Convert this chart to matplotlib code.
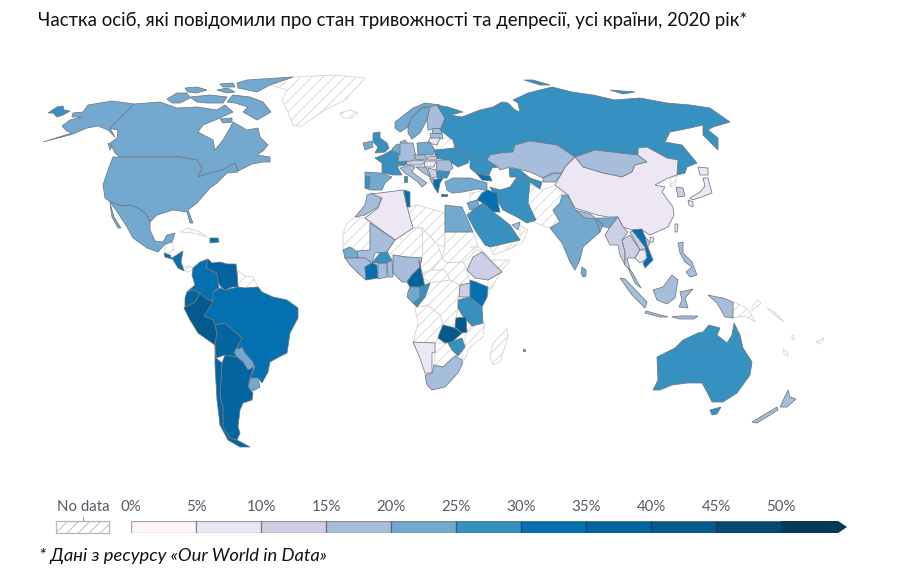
import matplotlib
matplotlib.use("Agg")
import matplotlib.pyplot as plt
from matplotlib.colors import BoundaryNorm, ListedColormap
from matplotlib.patches import Polygon

plt.rcParams["font.family"] = ["Lato", "Open Sans", "DejaVu Sans"]
plt.rcParams["hatch.linewidth"] = 0.6

TITLE = "Частка осіб, які повідомили про стан тривожності та депресії, усі країни, 2020 рік*"
NOTE = "* Дані з ресурсу «Our World in Data»"

bin_edges = [0, 5, 10, 15, 20, 25, 30, 35, 40, 45, 50, 55]
bin_colors = ["#fdf5fa", "#ece7f2", "#cdcfe5", "#a6bddb", "#74a9cf", "#3690c0",
              "#0570b0", "#04649f", "#045a8d", "#034a74", "#023858"]
tick_labels = ["0%", "5%", "10%", "15%", "20%", "25%", "30%", "35%", "40%", "45%", "50%"]

# share of people, read off the colour of each country (None = no data)
americas_values = {
    "canada": 22, "usa": 22, "mexico": 22, "guatemala": 32, "honduras": 32, "hispaniola": 32,
    "colombia": 32, "venezuela": 36, "brazil": 32, "ecuador": 37, "peru": 43, "bolivia": 36,
    "paraguay": 22, "uruguay": 22, "argentina": 36, "chile": 36,
    "greenland": None, "cuba": None, "belize": None, "panama": None, "guyanas": None,
}
europe_values = {
    "iceland": None, "ireland": 22, "uk": 28, "france": 27, "spain": 23, "portugal": 27,
    "norway": 22, "sweden": 22, "finland": 18, "denmark": 18, "estonia": 18, "latvia": 18,
    "lithuania": 8, "belarus": None, "poland": 22, "germany": 18, "benelux": 22,
    "ukraine": 27, "czechia": 18, "slovakia": 13, "austria": 13, "hungary": 8, "swiss": 27,
    "romania": 18, "bulgaria": 27, "serbia": 13, "croatia": 18, "greece": 32, "albania": 18,
    "italy": 18, "sardinia": 27, "crete": 32, "russia": 27,
}
asia_values = {
    "turkey": 22, "georgia": 32, "kazakhstan": 18, "turkmenistan": 27, "kyrgyzstan": 18,
    "mongolia": 18, "china": 8, "n_korea": None, "s_korea": 13, "japan": 8, "india": 22,
    "nepal": 18, "bangladesh": 22, "sri_lanka": 22, "afpak": None, "iran": 27, "iraq": 32,
    "syria": None, "jordan": 22, "saudi": 27, "yemen": None, "oman": None, "uae": 18,
    "taiwan": 8, "myanmar": 13, "thailand": 13, "laos": 13, "cambodia": 8, "vietnam": 32,
    "malaysia": 18, "indonesia": 18, "philippines": 18, "png": None,
}
africa_values = {
    "egypt": 22, "morocco": 18, "algeria": 8, "tunisia": 32, "libya": None, "mauritania": None,
    "mali": 18, "senegal": 22, "guinea": 18, "ivory_coast": 32, "ghana": 18, "burkina": 27,
    "benin": 18, "nigeria": 18, "cameroon": 36, "niger": None, "chad": None, "sudan": None,
    "s_sudan": None, "car": None, "ethiopia": 13, "eritrea": None, "somalia": None, "kenya": 32,
    "uganda": 13, "tanzania": 27, "drc": None, "gabon": 22, "congo": 27, "angola": None,
    "zambia": 42, "malawi": 42, "mozambique": None, "zimbabwe": 27, "namibia": 8,
    "botswana": None, "south_africa": 18, "madagascar": None, "mauritius": 27,
}
oceania_values = {"australia": 27, "new_zealand": 18, "pacific": None}

# traced outlines, in the map's own x / y units
americas_shapes = {
    "canada": [
        [(134,104),(160,102),(177,108),(197,107),(217,110),(225,105),(233,112),(220,118),(203,125),(198,132),(213,140),(215,150),(223,140),(230,128),(233,122),(247,130),(258,128),(260,137),(268,145),(263,151),(257,155),(270,157),(270,162),(263,162),(252,164),(238,171),(235,163),(223,170),(210,173),(198,177),(202,168),(197,160),(180,157),(120,157),(115,153),(110,143),(117,138),(118,130),(108,128)],
        [(227,102),(233,95),(250,97),(263,102),(271,112),(257,120),(243,112),(248,107),(235,103)],
        [(167,99),(177,93),(187,93),(190,98),(180,103),(172,103)],
        [(185,88),(197,87),(207,90),(197,93),(188,92)],
        [(190,97),(210,95),(227,97),(223,103),(207,103),(197,102)],
        [(217,90),(227,88),(235,92),(227,93)],
        [(220,84),(233,83),(235,87),(223,87)],
        [(220,119),(232,118),(232,122),(223,123)],
        [(247,80),(293,77),(270,85),(257,92),(238,88),(237,83)],
        [(108,143),(112,146),(110,150)],
    ],
    "usa": [
        [(120,157),(180,157),(197,160),(202,168),(198,177),(210,173),(222,170),(235,163),(238,172),(227,173),(217,183),(210,188),(197,203),(188,210),(193,223),(190,223),(187,212),(173,210),(157,215),(150,222),(145,213),(138,208),(130,205),(123,206),(112,203),(105,198),(103,185),(108,170),(113,157)],
        [(110,128),(134,104),(112,101),(88,105),(83,112),(73,113),(72,117),(82,117),(70,120),(62,126),(67,131),(72,133),(43,142),(73,134),(87,128),(98,126),(108,130),(115,137)],
    ],
    "mexico": [
        [(110,202),(123,206),(130,205),(138,208),(145,213),(150,222),(150,230),(155,241),(163,242),(167,235),(175,233),(172,242),(165,244),(158,252),(147,248),(133,238),(127,227),(116,210)],
        [(110,203),(114,217),(121,228),(118,228),(112,217)],
    ],
    "greenland": [[(270,85),(293,77),(335,75),(365,78),(345,100),(325,110),(300,127),(293,125),(287,110),(282,100),(287,90)]],
    "cuba": [[(180,232),(188,228),(200,232),(207,237),(193,233)]],
    "belize": [[(165,244),(172,242),(174,250),(165,254)]],
    "guatemala": [[(164,253),(170,255),(172,259),(165,257)]],
    "honduras": [[(172,258),(183,251),(181,262),(184,271),(178,268)]],
    "panama": [[(180,268),(187,272),(197,269),(190,266)]],
    "hispaniola": [[(210,238),(218,238),(219,242),(210,243)]],
    "colombia": [[(193,268),(200,262),(208,259),(206,268),(217,273),(219,288),(214,291),(213,300),(207,303),(200,293),(193,290),(187,292),(195,285),(192,275)]],
    "venezuela": [[(208,259),(212,263),(220,262),(227,264),(236,264),(237,273),(238,287),(232,287),(225,290),(221,287),(218,282),(217,273),(206,268)]],
    "guyanas": [[(237,270),(245,276),(253,277),(258,287),(245,288),(238,287)]],
    "brazil": [[(213,292),(220,288),(225,290),(238,287),(245,288),(258,287),(262,292),(273,297),(287,300),(298,308),(298,318),(290,333),(287,353),(277,358),(270,362),(268,372),(262,383),(258,378),(250,378),(255,367),(253,363),(245,353),(237,348),(242,338),(225,323),(215,325),(213,320),(204,316),(207,308),(213,300)]],
    "peru": [[(185,307),(195,302),(200,293),(205,298),(213,302),(204,316),(213,320),(215,325),(217,333),(215,345),(205,338),(198,333),(190,320),(184,308)]],
    "ecuador": [[(187,292),(193,290),(200,293),(195,302),(185,307),(185,298)]],
    "bolivia": [[(215,325),(225,323),(242,338),(237,348),(234,352),(237,357),(225,355),(216,358),(215,345),(217,333)]],
    "paraguay": [[(234,352),(242,347),(245,353),(253,362),(254,367),(248,370),(243,362),(237,357)]],
    "uruguay": [[(250,378),(258,378),(260,387),(253,391),(248,387)]],
    "argentina": [[(225,355),(237,357),(243,362),(248,370),(254,367),(250,378),(248,387),(253,393),(252,400),(243,403),(240,410),(238,427),(240,433),(237,440),(230,438),(223,427),(223,407),(220,397),(222,363)]],
    "chile": [[(215,345),(216,358),(222,363),(220,397),(223,407),(223,427),(230,438),(237,440),(250,447),(240,447),(228,440),(220,425),(217,400),(215,365)]],
}
europe_shapes = {
    "iceland": [[(340,113),(350,110),(358,113),(352,118),(343,118)]],
    "ireland": [[(363,143),(372,141),(373,147),(365,150)]],
    "uk": [[(373,133),(380,132),(380,138),(387,143),(389,148),(385,152),(375,153),(378,147),(373,142)]],
    "france": [[(375,158),(383,155),(392,150),(400,155),(398,162),(398,168),(402,175),(393,175),(382,173),(382,163)]],
    "spain": [[(365,172),(380,173),(392,177),(385,183),(382,190),(370,190),(365,188),(370,177),(365,177)]],
    "portugal": [[(365,177),(370,177),(369,188),(365,188)]],
    "norway": [[(395,128),(395,122),(413,108),(425,103),(440,105),(433,107),(423,107),(412,117),(408,127),(400,132)]],
    "sweden": [[(408,127),(412,117),(423,107),(430,108),(427,120),(420,133),(412,139),(408,133)]],
    "finland": [[(430,107),(437,105),(445,118),(442,128),(428,130),(427,120)]],
    "denmark": [[(400,142),(405,140),(408,144),(402,146)]],
    "estonia": [[(432,128),(441,128),(441,133),(432,133)]],
    "latvia": [[(430,133),(442,133),(442,138),(430,138)]],
    "lithuania": [[(430,138),(440,138),(437,145),(428,143)]],
    "belarus": [[(437,142),(447,137),(455,142),(454,150),(437,150)]],
    "poland": [[(417,143),(430,142),(435,150),(433,155),(418,155)]],
    "germany": [[(400,143),(413,143),(416,157),(410,163),(398,162)]],
    "benelux": [[(392,149),(397,144),(400,145),(400,155)]],
    "ukraine": [[(435,150),(455,148),(470,157),(468,163),(458,167),(452,163),(447,160),(435,158)]],
    "czechia": [[(414,155),(425,155),(427,159),(416,160)]],
    "slovakia": [[(427,157),(437,156),(436,160),(427,160)]],
    "austria": [[(405,162),(416,160),(426,161),(422,165),(408,165)]],
    "hungary": [[(425,161),(436,161),(434,167),(424,167)]],
    "swiss": [[(398,162),(407,161),(406,165),(399,166)]],
    "romania": [[(437,160),(450,160),(453,168),(448,172),(436,170)]],
    "bulgaria": [[(437,171),(450,172),(447,178),(437,178)]],
    "serbia": [[(428,168),(436,170),(437,177),(431,178)]],
    "croatia": [[(416,167),(426,167),(430,177),(422,172)]],
    "greece": [[(432,180),(443,178),(440,183),(438,193),(434,187)]],
    "albania": [[(429,178),(433,178),(433,185)]],
    "italy": [[(400,168),(410,165),(415,167),(412,172),(420,178),(427,183),(422,187),(418,182),(405,173)]],
    "sardinia": [[(404,176),(407,176),(407,182),(404,182)]],
    "crete": [[(441,194),(447,194),(447,196),(441,196)]],
    "russia": [
        [(440,130),(445,118),(437,105),(448,107),(463,112),(450,115),(462,117),(480,110),(493,107),(502,102),(508,103),(515,110),(520,112),(518,103),(513,100),(528,93),(552,87),(572,92),(593,95),(615,100),(640,98),(667,103),(690,105),(710,108),(730,122),(713,127),(708,130),(718,138),(718,150),(703,135),(703,125),(690,128),(670,132),(665,142),(682,145),(697,163),(687,167),(685,173),(677,175),(678,160),(667,158),(647,147),(638,148),(638,155),(620,153),(595,150),(575,157),(557,145),(530,141),(515,145),(513,152),(500,153),(490,155),(487,160),(498,167),(492,168),(489,175),(478,175),(470,168),(470,157),(455,148),(453,140)],
        [(524,80),(533,80),(550,85),(540,85)],
        [(610,90),(635,92),(623,94)],
        [(48,113),(57,107),(63,106),(64,110),(70,111),(63,115),(57,117),(53,113)],
    ],
}
asia_shapes = {
    "turkey": [[(445,182),(453,178),(470,178),(487,183),(487,190),(477,189),(463,192),(452,193),(447,190)]],
    "georgia": [[(477,174),(490,176),(492,181),(482,180)]],
    "kazakhstan": [[(500,153),(513,152),(515,145),(530,141),(557,145),(575,157),(565,167),(562,173),(552,173),(543,178),(530,172),(510,167),(500,170),(498,167),(487,160),(490,155)]],
    "turkmenistan": [[(509,168),(520,170),(530,178),(542,182),(540,189),(530,182),(517,177),(510,177)]],
    "kyrgyzstan": [[(543,178),(552,174),(562,173),(555,182),(543,182)]],
    "mongolia": [[(575,157),(595,150),(620,153),(638,155),(647,162),(635,165),(632,172),(622,177),(603,173),(583,167)]],
    "china": [
        [(575,157),(583,167),(603,173),(622,177),(632,172),(635,165),(647,162),(638,155),(638,148),(647,147),(667,158),(678,160),(677,175),(668,178),(655,185),(665,187),(662,192),(673,207),(674,215),(668,227),(650,235),(642,230),(632,230),(623,227),(618,217),(608,217),(597,215),(575,208),(568,195),(555,185),(562,173),(565,167)],
        [(650,237),(654,238),(653,242),(650,242)],
    ],
    "n_korea": [[(670,178),(677,176),(675,185),(670,187)]],
    "s_korea": [[(676,187),(683,188),(685,196),(678,197)]],
    "japan": [
        [(698,167),(708,168),(708,175),(700,175)],
        [(703,178),(708,178),(712,193),(702,197),(692,200),(690,198),(700,192),(705,186)],
        [(688,200),(693,202),(693,207),(689,205)],
    ],
    "taiwan": [[(675,224),(678,224),(677,232),(675,232)]],
    "india": [
        [(562,195),(568,195),(575,210),(597,220),(600,232),(583,247),(580,260),(575,270),(570,262),(562,243),(550,228),(560,222),(553,210),(560,203)],
        [(597,218),(610,218),(617,217),(610,228),(600,226)],
    ],
    "nepal": [[(575,210),(590,214),(597,219),(585,218)]],
    "bangladesh": [[(596,220),(603,224),(600,232)]],
    "sri_lanka": [[(582,267),(586,270),(586,276),(583,277),(581,273)]],
    "afpak": [[(528,183),(542,190),(555,185),(568,195),(560,203),(553,210),(560,222),(550,228),(533,222),(528,203)]],
    "iran": [[(490,187),(500,190),(510,187),(517,177),(530,182),(528,203),(536,220),(527,223),(517,217),(503,210),(497,200)]],
    "iraq": [[(487,190),(497,193),(498,203),(500,212),(493,212),(483,203),(477,200),(482,193)]],
    "syria": [[(470,193),(487,190),(482,193),(477,200),(470,202)]],
    "jordan": [[(467,203),(477,200),(480,207),(470,210)]],
    "saudi": [[(473,210),(483,203),(493,212),(500,217),(510,225),(520,240),(490,247),(485,245),(475,230),(467,215)]],
    "yemen": [[(490,247),(520,240),(512,248),(493,255)]],
    "oman": [[(520,225),(528,230),(522,243),(512,248),(520,240)]],
    "uae": [[(512,225),(520,222),(518,230)]],
    "myanmar": [[(610,227),(618,217),(623,227),(628,232),(622,240),(625,252),(625,265),(620,255),(618,245),(610,245),(605,235)]],
    "thailand": [[(622,240),(630,235),(640,250),(635,258),(627,258),(630,270),(625,265),(625,252)]],
    "laos": [[(630,232),(640,230),(650,243),(647,248),(640,250)]],
    "cambodia": [[(635,258),(640,250),(647,250),(648,258),(640,263)]],
    "vietnam": [[(632,230),(642,229),(645,237),(647,245),(653,260),(645,268),(643,263),(647,258),(645,247),(638,238)]],
    "malaysia": [[(628,268),(632,272),(641,288),(635,283)]],
    "indonesia": [
        [(620,278),(625,279),(647,302),(645,308),(632,295)],
        [(646,311),(668,317),(660,317),(645,313)],
        [(653,290),(663,287),(672,275),(678,280),(675,298),(667,304),(657,300)],
        [(680,292),(693,289),(685,298),(688,308),(679,307),(682,300)],
        [(708,295),(717,297),(723,298),(733,302),(733,318),(725,317),(717,303)],
        [(672,317),(680,316),(688,316),(698,316),(694,319),(680,319)],
    ],
    "philippines": [[(678,243),(683,242),(683,253),(692,262),(697,275),(690,277),(686,272),(692,267),(685,262),(680,253)]],
    "png": [[(733,302),(745,307),(750,312),(755,322),(745,316),(733,318)]],
}
africa_shapes = {
    "egypt": [[(445,205),(462,207),(473,232),(445,232)]],
    "morocco": [[(372,193),(382,197),(378,207),(365,215),(355,217),(365,205),(367,195)]],
    "algeria": [[(372,194),(403,190),(408,210),(413,228),(395,240),(365,218),(378,208),(382,198)]],
    "tunisia": [[(404,190),(410,192),(410,207),(407,207)]],
    "libya": [[(410,207),(417,205),(445,213),(445,247),(438,245),(422,228),(413,228),(408,210)]],
    "mauritania": [[(355,217),(365,218),(370,223),(370,250),(357,251),(350,247),(343,250),(343,233),(347,223)]],
    "mali": [[(370,223),(395,240),(387,252),(375,253),(372,263),(365,258),(358,258),(357,251),(370,250)]],
    "senegal": [[(343,250),(350,247),(357,252),(358,258),(345,258)]],
    "guinea": [[(345,258),(358,258),(365,258),(372,263),(365,267),(366,280),(358,273),(350,265)]],
    "ivory_coast": [[(365,267),(372,263),(377,265),(378,278),(366,280)]],
    "ghana": [[(378,263),(387,263),(387,277),(378,279)]],
    "burkina": [[(372,263),(380,253),(387,252),(392,260),(387,263),(378,263)]],
    "benin": [[(387,263),(392,260),(393,277),(388,277)]],
    "nigeria": [[(393,255),(407,257),(422,258),(420,267),(412,275),(407,282),(402,282),(393,273)]],
    "cameroon": [[(419,260),(423,278),(425,287),(410,287),(407,282),(412,275),(420,267)]],
    "niger": [[(413,228),(422,228),(423,253),(422,258),(407,257),(393,255),(387,252),(395,240)]],
    "chad": [[(422,228),(438,245),(442,258),(432,270),(423,273),(420,267),(423,253)]],
    "sudan": [[(445,232),(473,232),(478,247),(470,257),(463,262),(447,263),(442,258),(445,247)]],
    "s_sudan": [[(442,258),(447,263),(463,262),(467,270),(470,283),(460,285),(450,280),(445,270),(432,270)]],
    "car": [[(423,273),(432,270),(445,270),(450,280),(430,283),(423,278)]],
    "ethiopia": [[(473,257),(482,252),(490,260),(502,272),(488,280),(475,278),(467,270)]],
    "eritrea": [[(470,247),(478,247),(490,258),(482,252)]],
    "somalia": [[(490,260),(510,260),(500,273),(482,305),(487,297),(488,287),(488,280),(502,272)]],
    "kenya": [[(470,280),(476,282),(488,287),(487,297),(482,307),(470,297)]],
    "uganda": [[(460,285),(470,283),(470,297),(459,297)]],
    "tanzania": [[(458,300),(470,297),(482,307),(483,323),(472,326),(462,315),(458,308)]],
    "drc": [[(430,283),(450,280),(460,285),(459,297),(458,308),(456,318),(455,328),(443,325),(440,315),(427,305),(417,307),(425,297)]],
    "gabon": [[(408,292),(410,287),(420,287),(420,298),(413,303),(407,297)]],
    "congo": [[(420,287),(430,283),(425,297),(417,307),(413,303),(420,298)]],
    "angola": [[(415,308),(427,305),(440,315),(443,325),(440,332),(438,338),(435,343),(413,342),(418,323)]],
    "zambia": [[(443,325),(455,328),(462,333),(452,342),(445,343),(438,338),(440,332)]],
    "malawi": [[(456,318),(466,317),(467,332),(462,333),(455,327)]],
    "mozambique": [[(465,337),(467,332),(472,326),(485,323),(483,337),(470,347),(462,365),(462,353),(465,347)]],
    "zimbabwe": [[(448,343),(462,338),(465,347),(458,356),(452,350)]],
    "namibia": [[(413,342),(435,343),(435,352),(432,353),(432,373),(425,373),(420,358)]],
    "botswana": [[(435,343),(448,343),(458,356),(452,358),(443,367),(434,365),(435,353)]],
    "south_africa": [[(425,375),(432,373),(434,365),(443,367),(455,356),(462,360),(462,365),(458,373),(445,387),(432,390),(427,385)]],
    "madagascar": [[(507,328),(508,337),(500,362),(493,365),(490,357),(493,343),(503,333)]],
    "mauritius": [[(523,349),(525,349),(525,351),(523,351)]],
}
oceania_shapes = {
    "australia": [
        [(653,390),(658,380),(657,357),(675,348),(683,340),(698,333),(703,332),(709,325),(720,328),(717,335),(727,343),(732,335),(734,323),(740,335),(743,348),(752,362),(750,375),(737,393),(723,402),(712,402),(707,392),(702,383),(687,383),(672,385),(660,390)],
        [(710,410),(721,407),(717,414),(712,415)],
    ],
    "new_zealand": [
        [(752,422),(777,407),(778,410),(757,423)],
        [(780,407),(788,390),(790,397),(796,399),(787,407)],
    ],
    "pacific": [
        [(767,308),(775,312),(784,322),(776,316)],
        [(792,335),(794,336),(794,340),(792,339)],
        [(783,349),(787,352),(788,356),(784,354)],
        [(816,342),(824,338),(820,344)],
        [(758,300),(761,303),(752,311),(752,307)],
    ],
}

values = {**americas_values, **europe_values, **asia_values, **africa_values, **oceania_values}
shapes = {**americas_shapes, **europe_shapes, **asia_shapes, **africa_shapes, **oceania_shapes}

cmap = ListedColormap(bin_colors)
norm = BoundaryNorm(bin_edges, cmap.N)

fig = plt.figure(figsize=(9, 5.73), dpi=100)
ax = fig.add_axes([0, 0, 1, 1])
ax.set_xlim(0, 900)
ax.set_ylim(573, 0)
ax.axis("off")

# no data first, so the coloured borders sit on top
for name in sorted(shapes, key=lambda n: values[n] is not None):
    for part in shapes[name]:
        if values[name] is None:
            ax.add_patch(Polygon(part, closed=True, facecolor="white", edgecolor="#d4d4d4",
                                 hatch="///", linewidth=0.6))
        else:
            ax.add_patch(Polygon(part, closed=True, facecolor=cmap(norm(values[name])),
                                 edgecolor="#6d7884", linewidth=0.55))

ax.text(38, 20, TITLE, fontsize=13.45, color="#111111", va="center", ha="left")
ax.text(39, 556, NOTE, fontsize=13.2, color="#111111", style="italic", va="center", ha="left")

# legend: 0-50 % runs from x=131 to x=781.5 of the figure
leg = fig.add_axes([131 / 900, (573 - 533) / 573, 716 / 900, 12 / 573])
leg.set_xlim(0, 55.08)
leg.set_ylim(0, 1)
leg.axis("off")
for i, col in enumerate(bin_colors[:-1]):
    leg.barh(0.5, bin_edges[i + 1] - bin_edges[i], left=bin_edges[i], height=1, color=col,
             edgecolor=(0, 0, 0, 0.35), linewidth=0.9)
last = bin_edges[-2]
leg.add_patch(Polygon([(last, 0), (last + 4.4, 0), (last + 5.08, 0.5), (last + 4.4, 1), (last, 1)],
                      facecolor=bin_colors[-1], edgecolor="none"))
for edge, lab in zip(bin_edges, tick_labels):
    leg.text(edge, 1.55, lab, fontsize=10.8, color="#555b66", ha="center", va="bottom", clip_on=False)

ax.add_patch(Polygon([(56, 521), (109, 521), (109, 533), (56, 533)], facecolor="white",
                     edgecolor="#b5b5b5", hatch="///", linewidth=0.9))
ax.plot([83, 83], [517, 521], color="#999999", linewidth=0.7)
ax.text(83, 507, "No data", fontsize=10.8, color="#555b66", ha="center", va="center")

fig.savefig("out.png", dpi=100)
